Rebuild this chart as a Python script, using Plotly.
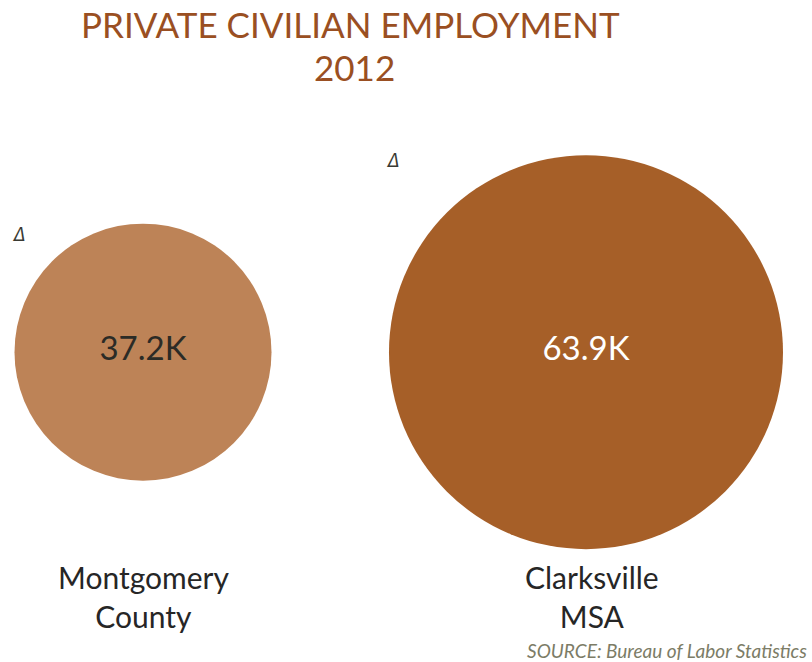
import plotly.graph_objects as go

# Data
categories = ["Montgomery<br>County", "Clarksville<br>MSA"]
values_k = [37.2, 63.9]
value_labels = ["37.2K", "63.9K"]
title_lines = ["PRIVATE CIVILIAN EMPLOYMENT", "2012"]
source_note = "SOURCE: Bureau of Labor Statistics"

# Styling
bubble_colors = ["#BD8357", "#A65F28"]
value_text_colors = ["#2B2B26", "#FFFFFF"]
title_color = "#9A4F22"
label_color = "#262626"
source_color = "#7C7C66"

# Bubble diameter scale: linear map from the value domain to a pixel range
d_min, d_max = 257, 394
v_lo, v_hi = min(values_k), max(values_k)
diameters = [d_min + (v - v_lo) / (v_hi - v_lo) * (d_max - d_min) for v in values_k]

xs = list(range(len(values_k)))
ys = [0] * len(values_k)

fig = go.Figure()
fig.add_trace(go.Scatter(
    x=xs, y=ys,
    mode="markers+text",
    marker=dict(size=diameters, sizemode="diameter", color=bubble_colors,
                opacity=1, line=dict(width=0)),
    text=value_labels,
    textposition="middle center",
    textfont=dict(family="Lato, 'Open Sans', sans-serif", size=33,
                  color=value_text_colors),
    hoverinfo="skip",
    showlegend=False,
))

# Category labels under each bubble
label_y = [-0.695, -0.695]
for i, cat in enumerate(categories):
    fig.add_annotation(
        x=xs[i] + (0.0 if i == 0 else 0.014), y=label_y[i],
        text=cat, showarrow=False, xanchor="center", yanchor="middle",
        font=dict(family="Lato, 'Open Sans', sans-serif", size=30, color=label_color),
    )

# Small marker glyphs above the bubbles
glyph_pos = [(0.0235, 0.646), (0.4835, 0.758)]
for gx, gy in glyph_pos:
    fig.add_annotation(
        x=gx, y=gy, xref="paper", yref="paper", text="<i>Δ</i>", showarrow=False,
        xanchor="center", yanchor="middle",
        font=dict(family="'DejaVu Sans Condensed', 'DejaVu Sans', sans-serif",
                  size=19, color="#3A3A33"),
    )

# Title, one annotation per line
title_pos = [(0.4317, 0.964), (0.437, 0.899)]
for line, (tx, ty) in zip(title_lines, title_pos):
    fig.add_annotation(
        x=tx, y=ty, xref="paper", yref="paper",
        text=line, showarrow=False,
        xanchor="center", yanchor="middle", align="center",
        font=dict(family="Lato, 'Open Sans', sans-serif", size=35, color=title_color),
    )

# Source note
fig.add_annotation(
    x=0.996, y=0.018, xref="paper", yref="paper",
    text="<i>" + source_note + "</i>", showarrow=False,
    xanchor="right", yanchor="middle",
    font=dict(family="Lato, 'Open Sans', sans-serif", size=19, color=source_color),
)

fig.update_layout(
    width=812, height=662,
    margin=dict(l=0, r=0, t=0, b=0),
    paper_bgcolor="white", plot_bgcolor="white",
    xaxis=dict(range=[-0.3228, 1.5102], visible=False, fixedrange=True),
    yaxis=dict(range=[-0.88, 1.0], visible=False, fixedrange=True),
)

fig.write_html("out.html")
